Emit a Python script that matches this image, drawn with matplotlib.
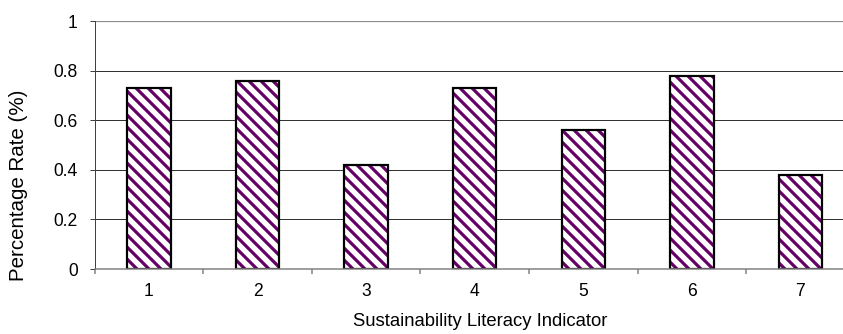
import matplotlib.pyplot as plt

plt.rcParams['font.family'] = ['Liberation Sans', 'DejaVu Sans']
plt.rcParams['hatch.linewidth'] = 3.2

# Share of respondents per sustainability literacy indicator
indicators = ["1", "2", "3", "4", "5", "6", "7"]
rates = [0.73, 0.76, 0.42, 0.73, 0.56, 0.78, 0.38]
y_ticks = [0, 0.2, 0.4, 0.6, 0.8, 1]
y_tick_labels = ["0", "0.2", "0.4", "0.6", "0.8", "1"]

fig = plt.figure(figsize=(843 / 72, 334 / 72), dpi=72)
ax = fig.add_axes([94.7 / 843, 65 / 334, 760 / 843, 248 / 334])

positions = range(1, len(indicators) + 1)
# purple striped fill, then a black outline on top
ax.bar(positions, rates, width=0.4, color='white', edgecolor='#660066',
       linewidth=0, hatch='\\\\', zorder=3)
ax.bar(positions, rates, width=0.4, fill=False, edgecolor='black',
       linewidth=2.2, zorder=4)

ax.set_xlim(0.5, 7.5)
ax.set_ylim(0, 1)

# horizontal gridlines, the top one drawn lighter and heavier
for y in y_ticks[1:-1]:
    ax.axhline(y, color='#333333', linewidth=1, zorder=1)
ax.axhline(1, color='#8c8c8c', linewidth=2.2, zorder=1)

for side in ['top', 'right']:
    ax.spines[side].set_visible(False)
ax.spines['left'].set_color('#404040')
ax.spines['left'].set_linewidth(1)
ax.spines['bottom'].set_color('#808080')
ax.spines['bottom'].set_linewidth(1.5)
ax.spines['bottom'].set_zorder(5)

ax.set_yticks(y_ticks)
ax.set_yticklabels(y_tick_labels)
ax.tick_params(axis='y', direction='out', length=5, width=1, color='#404040',
               pad=12, labelsize=17.5)

# category labels sit between boundary tick marks
ax.set_xticks([p + 0.5 for p in range(0, len(indicators) + 1)])
ax.set_xticklabels([])
ax.tick_params(axis='x', direction='out', length=5, width=1.5, color='#808080')
for p, name in zip(positions, indicators):
    ax.text(p, -0.055, name, ha='center', va='top', fontsize=17.5,
            transform=ax.get_xaxis_transform())

fig.text(480 / 843, 1 - 322 / 334, "Sustainability Literacy Indicator",
         ha='center', va='center', fontsize=18.5)
fig.text(19 / 843, 1 - 185 / 334, "Percentage Rate (%)", rotation=90,
         ha='center', va='center', fontsize=20.5)

fig.savefig('out.png', dpi=72)
